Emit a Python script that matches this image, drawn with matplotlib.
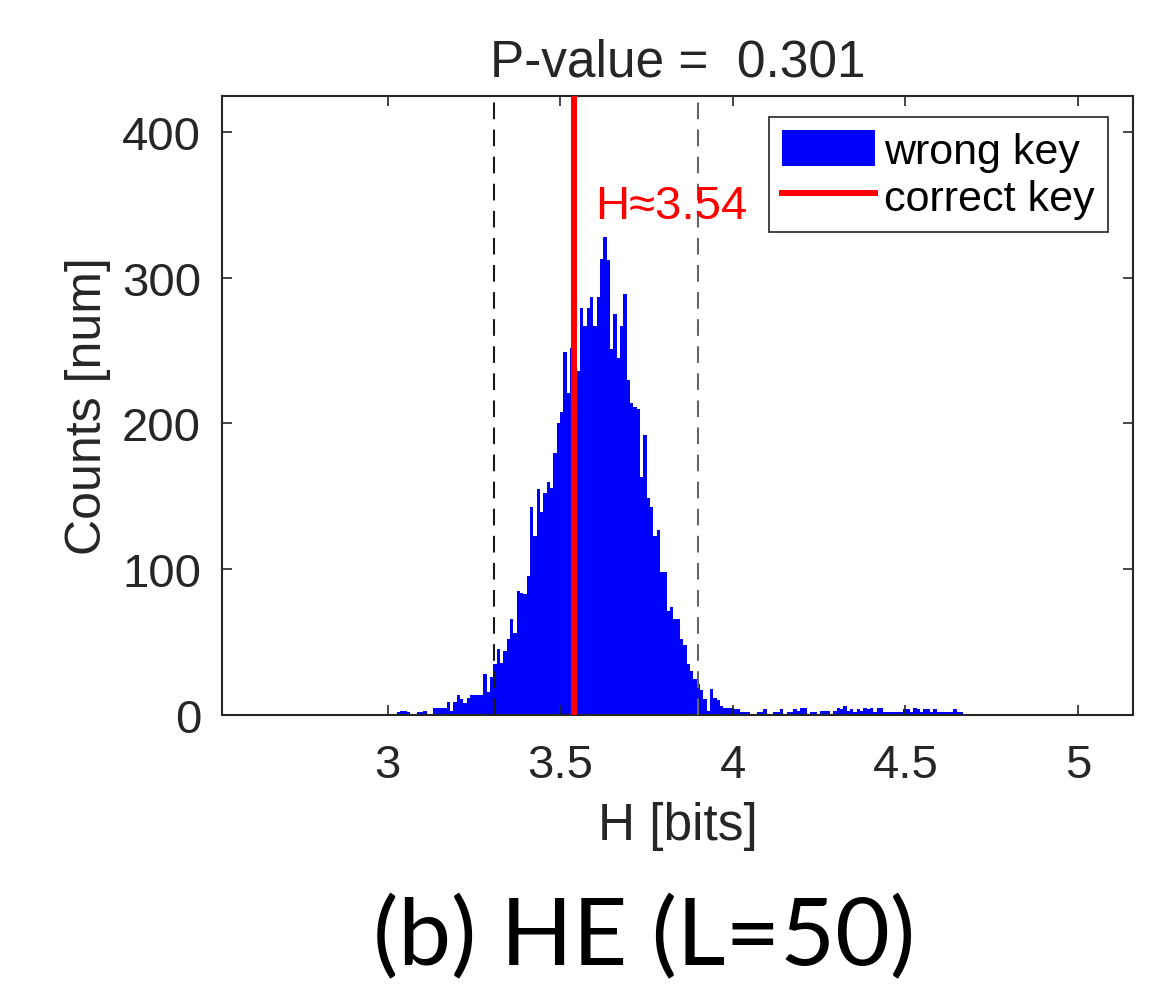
import numpy as np
import matplotlib
matplotlib.use("Agg")
import matplotlib.pyplot as plt

plt.rcParams['font.family'] = ['Liberation Sans', 'DejaVu Sans']

# histogram of entropy for wrong keys (171 equal bins)
h_lo, h_hi = 3.0154, 4.6673
counts = [1, 2, 3, 3, 2, 1, 0, 2, 2, 3, 1, 1, 5, 5, 5, 5, 9, 3, 9, 14,
          11, 8, 12, 14, 14, 14, 14, 28, 16, 26, 35, 45, 36, 44, 52, 66, 56, 85, 84, 83,
          95, 143, 123, 155, 139, 152, 160, 156, 180, 200, 208, 249, 221, 252, 250, 236, 279, 267, 279, 287,
          267, 287, 313, 328, 312, 251, 275, 245, 267, 289, 230, 214, 211, 210, 163, 192, 149, 143, 123, 127,
          98, 98, 71, 74, 66, 66, 52, 48, 35, 30, 25, 21, 17, 11, 3, 18, 12, 10, 6, 5,
          5, 5, 4, 4, 2, 2, 2, 1, 0, 2, 2, 4, 1, 1, 2, 2, 4, 1, 2, 2,
          4, 3, 5, 5, 1, 2, 2, 1, 3, 3, 3, 1, 3, 5, 4, 6, 3, 4, 2, 4,
          3, 5, 4, 5, 2, 5, 5, 2, 2, 2, 2, 2, 2, 4, 4, 2, 5, 4, 2, 4,
          4, 2, 4, 2, 2, 2, 2, 2, 4, 2, 2]
edges = np.linspace(h_lo, h_hi, len(counts) + 1)

h_correct = 3.54
bounds = [3.307, 3.899]   # dashed threshold lines
p_value = 0.301

fig = plt.figure(figsize=(11.74, 9.95), dpi=100)
ax = fig.add_axes([0.189, 0.2804, 0.776, 0.622])

ax.stairs(counts, edges, fill=True, color=(0, 0, 1), linewidth=0, label='wrong key')
ax.axvline(bounds[0], color='0.1', lw=1.5, dashes=(8, 5), zorder=3)
ax.axvline(bounds[1], color='0.4', lw=1.5, dashes=(8, 5), zorder=3)
ax.axvline(h_correct, color=(1, 0, 0), lw=4.3, label='correct key', zorder=4)
ax.text(3.6, 349, 'H\u2248%.2f' % h_correct, color=(1, 0, 0), fontsize=34,
        va='center', ha='left')

ax.set_xlim(2.519, 5.159)
ax.set_ylim(0, 424.5)
ax.set_xticks([3, 3.5, 4, 4.5, 5])
ax.set_xticklabels(['3', '3.5', '4', '4.5', '5'])
ax.set_yticks([0, 100, 200, 300, 400])
ax.tick_params(direction='in', length=7, width=1.2, top=True, right=True,
               labelsize=34, colors='#262626')
ax.tick_params(axis='x', pad=20)
ax.tick_params(axis='y', pad=15)
for s in ax.spines.values():
    s.set_color('#262626')
    s.set_linewidth(1.5)

ax.set_title('P-value =  %.3f' % p_value, fontsize=37, color='#262626', pad=15)
ax.set_xlabel('H [bits]', fontsize=37, color='#262626', labelpad=10)
ax.set_ylabel('Counts [num]', fontsize=36, color='#262626', labelpad=8)

leg = ax.legend(loc='upper right', bbox_to_anchor=(0.9726, 0.966), borderaxespad=0,
                fontsize=31, fancybox=False, framealpha=1, edgecolor='#262626',
                handlelength=2.15, handleheight=0.9, handletextpad=0.22,
                borderpad=0.3, labelspacing=0.12)
leg.get_frame().set_linewidth(1.2)

fig.text(0.549, 0.057, '(b) HE (L=50)', fontsize=68, family=['Lato', 'DejaVu Sans'],
         ha='center', va='center')

fig.savefig('out.png', dpi=100)
